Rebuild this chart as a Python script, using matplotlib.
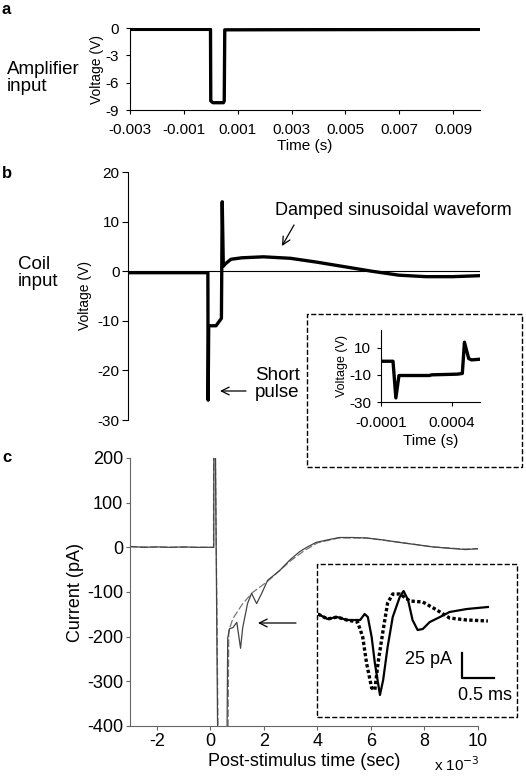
import matplotlib
matplotlib.use("Agg")
import matplotlib.pyplot as plt
from matplotlib.patches import Rectangle, FancyArrowPatch

plt.rcParams['font.family'] = ['Liberation Sans', 'DejaVu Sans']
plt.rcParams['axes.unicode_minus'] = False

W, H = 526, 776

# panel a: amplifier input (s, V)
amp_t = [-0.003, -0.00001, 0.0, 0.00008, 0.00047, 0.0005, 0.00052, 0.010]
amp_v = [-0.15, -0.15, -8.0, -8.2, -8.2, -8.0, -0.2, -0.15]
amp_xticks = [-0.003, -0.001, 0.001, 0.003, 0.005, 0.007, 0.009]
amp_yticks = [0, -3, -6, -9]

# panel b: coil input (s, V)
coil_t = [-0.003, -0.00005, -0.00004, -0.00002, 0.00025, 0.00045, 0.00048, 0.00052,
          0.0006, 0.0008, 0.0012, 0.002, 0.003, 0.004, 0.005, 0.006, 0.007, 0.008, 0.009, 0.010]
coil_v = [-0.3, -0.3, -26, -11, -11, -9.5, 14, 1,
          1.5, 2.4, 2.7, 2.9, 2.6, 1.8, 0.9, 0.0, -0.8, -1.1, -1.1, -0.9]
coil_yticks = [20, 10, 0, -10, -20, -30]

# panel b inset: zoom on the pulse
zoom_t = [-0.0001, -0.000015, 0.000005, 0.000027, 0.00024, 0.00026, 0.00044, 0.000475,
          0.00049, 0.00052, 0.00054, 0.0006]
zoom_v = [0, 0, -27, -10.5, -10.5, -10, -9.5, -9, 14, 2, 1, 1.5]
zoom_xticks = [-0.0001, 0.0004]
zoom_yticks = [10, -10, -30]

# panel c: recorded current (ms, pA)
cur_t1 = [-3, -2.5, -2, -1.5, -1, -0.5, 0.13, 0.14, 0.35, 0.58, 0.65, 0.72, 0.84, 0.99,
          1.13, 1.21, 1.39, 1.54, 1.73, 1.92, 2.14, 2.59, 2.96, 3.33, 3.6, 3.95,
          4.4, 4.82, 5.3, 5.82, 6.4, 7.06, 7.7, 8.3, 8.9, 9.54, 10.0]
cur_v1 = [2, 0, 1, 0, 1, 0, 0, 600, -1000, -800, -203, -182, -180, -168,
          -226, -180, -126, -103, -126, -103, -74, -52, -29, -10, 0, 11,
          17, 22, 22, 21, 17, 11, 6, 1, -2, -5, -3]
cur_t2 = [-3, -1, 0.12, 0.13, 0.38, 0.6, 0.69, 0.84, 1.21, 1.58, 2.1, 2.59,
          3.0, 3.5, 4.0, 4.8, 5.8, 7.0, 8.3, 9.5, 10.0]
cur_v2 = [1, 0, 0, 600, -1000, -900, -187, -160, -126, -101, -78, -52,
          -30, -8, 10, 21, 21, 12, 1, -4, -3]
cur_xticks = [-2, 0, 2, 4, 6, 8, 10]
cur_yticks = [200, 100, 0, -100, -200, -300, -400]

# panel c inset: two evoked responses (ms, pA)
ev_t_dot = [0.0, 0.15, 0.3, 0.45, 0.62, 0.70, 0.76, 0.84, 0.89, 0.94, 1.02, 1.09, 1.17,
            1.28, 1.44, 1.64, 1.86, 2.06, 2.33, 2.66]
ev_dot = [-146, -151, -149, -152, -154, -169, -195, -220, -222, -195, -162, -135, -126,
          -126, -133, -134, -142, -150, -152, -153]
ev_t_sol = [0.0, 0.15, 0.3, 0.45, 0.66, 0.73, 0.78, 0.84, 0.89, 0.97, 1.02, 1.09, 1.17,
            1.28, 1.34, 1.41, 1.48, 1.56, 1.64, 1.75, 1.91, 2.06, 2.33, 2.66]
ev_sol = [-146, -151, -149, -152, -152, -146, -149, -169, -195, -227, -212, -179, -149,
          -129, -123, -132, -152, -162, -161, -154, -149, -144, -141, -139]


def px(l, t, r, b):
    return [l / W, 1 - b / H, (r - l) / W, (b - t) / H]


def fpt(x, y):
    return (x / W, 1 - y / H)


def clean(ax, hide=('top', 'right')):
    for s in hide:
        ax.spines[s].set_visible(False)


fig = plt.figure(figsize=(W / 100, H / 100), dpi=100)

# ---- panel a
ax = fig.add_axes(px(130, 28, 480, 110))
ax.plot(amp_t, amp_v, color='black', lw=2.4)
ax.set_xlim(-0.003, 0.010)
ax.set_ylim(-9, 0)
ax.set_xticks(amp_xticks)
ax.set_xticklabels(['%.3f' % v for v in amp_xticks])
ax.set_yticks(amp_yticks)
ax.set_xlabel('Time (s)', fontsize=11, labelpad=2)
ax.set_ylabel('Voltage (V)', fontsize=10, labelpad=1)
clean(ax)
ax.tick_params(labelsize=11, length=3, width=0.8)
ax.tick_params(axis='x', pad=6)
ax.tick_params(axis='y', pad=5)

# ---- panel b
ax = fig.add_axes(px(128, 172, 480, 420))
ax.axhline(0, color='black', lw=0.8)
ax.plot(coil_t, coil_v, color='black', lw=2.4)
ax.set_xlim(-0.003, 0.010)
ax.set_ylim(-30, 20)
ax.set_yticks(coil_yticks)
ax.set_xticks([])
ax.set_ylabel('Voltage (V)', fontsize=10, labelpad=4)
clean(ax, ('top', 'right', 'bottom'))
ax.tick_params(labelsize=11, length=4, width=0.8, pad=2)

# inset b
fig.patches.append(Rectangle(fpt(307, 467), 215 / W, 153 / H, transform=fig.transFigure,
                             fill=False, ls='--', lw=1.0, color='black'))
ax = fig.add_axes(px(381, 330, 480, 402))
ax.plot(zoom_t, zoom_v, color='black', lw=2.4)
ax.set_xlim(-0.0001, 0.0006)
ax.set_ylim(-30, 23)
ax.set_xticks(zoom_xticks)
ax.set_xticklabels(['-0.0001', '0.0004'])
ax.set_yticks(zoom_yticks)
ax.set_xlabel('Time (s)', fontsize=11, labelpad=3)
ax.set_ylabel('Voltage (V)', fontsize=9, labelpad=1)
clean(ax)
ax.tick_params(labelsize=11, length=3, width=0.8)
ax.tick_params(axis='x', pad=7)
ax.tick_params(axis='y', pad=4)

# ---- panel c
ax = fig.add_axes(px(130, 458, 478, 726))
ax.plot(cur_t2, cur_v2, color='#777777', lw=0.9, ls=(0, (6, 2)))
ax.plot(cur_t1, cur_v1, color='#444444', lw=0.9)
ax.set_xlim(-3, 10)
ax.set_ylim(-400, 200)
ax.set_xticks(cur_xticks)
ax.set_yticks(cur_yticks)
ax.set_xlabel('Post-stimulus time (sec)', fontsize=13, labelpad=2)
ax.set_ylabel('Current (pA)', fontsize=13, labelpad=2)
clean(ax)
for s in ['left', 'bottom']:
    ax.spines[s].set_color('#666666')
ax.tick_params(labelsize=13, length=3, width=0.8, pad=2, color='#666666')
fig.text(*fpt(457, 771), 'x 10$^{-3}$', fontsize=11, ha='center', va='baseline')

# inset c
fig.patches.append(Rectangle(fpt(317, 717), 200 / W, 153 / H, transform=fig.transFigure,
                             fill=False, ls='--', lw=1.0, color='black'))
ax = fig.add_axes(px(318, 565, 516, 716))
ax.plot(ev_t_dot, ev_dot, color='black', lw=2.4, ls=(0, (1, 0.7)))
ax.plot(ev_t_sol, ev_sol, color='black', lw=1.6)
ax.set_xlim(0, 3.1)
ax.set_ylim(-248, -97)
ax.axis('off')
# scale bar: 25 pA, 0.5 ms
ax.plot([2.25, 2.25, 2.75], [-185, -210, -210], color='black', lw=1.6, clip_on=False)
ax.text(2.1, -192, '25 pA', fontsize=13, ha='right', va='center')
ax.text(3.04, -228, '0.5 ms', fontsize=13, ha='right', va='center')

# ---- annotations
fig.text(*fpt(2, 14), 'a', fontsize=12, fontweight='bold')
fig.text(*fpt(2, 178), 'b', fontsize=12, fontweight='bold')
fig.text(*fpt(2, 462), 'c', fontsize=12, fontweight='bold')
fig.text(*fpt(7, 78), 'Amplifier\ninput', fontsize=13.5, va='center', linespacing=1.05)
fig.text(*fpt(18, 273), 'Coil\ninput', fontsize=13.5, va='center', linespacing=1.05)
fig.text(*fpt(255, 384), 'Short\npulse', fontsize=13.5, va='center', linespacing=1.05)
fig.text(*fpt(275, 211), 'Damped sinusoidal waveform', fontsize=13, va='center')
arr = dict(arrowstyle='->', color='black', lw=0.9, shrinkA=0, shrinkB=0,
           transform=fig.transFigure, mutation_scale=14)
fig.add_artist(FancyArrowPatch(fpt(246, 391), fpt(220, 391), **arr))
fig.add_artist(FancyArrowPatch(fpt(294, 225), fpt(282, 246), **arr))
fig.add_artist(FancyArrowPatch(fpt(296, 623), fpt(258, 623), **arr))

fig.savefig('out.png', dpi=100)
